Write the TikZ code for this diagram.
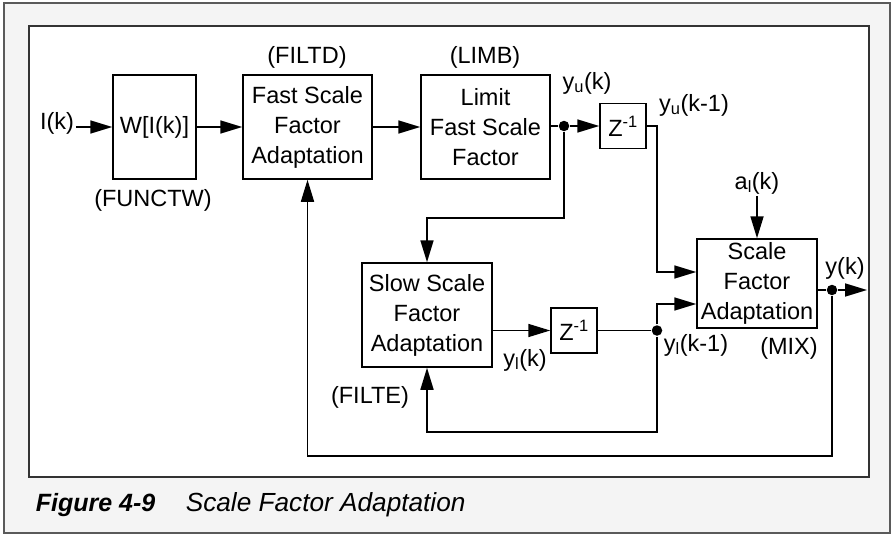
\documentclass[tikz,border=0pt]{standalone}
\usepackage{fontspec}
\setmainfont{Liberation Sans}
\usetikzlibrary{arrows.meta,positioning}
\definecolor{paneback}{HTML}{F4F4F4}
\definecolor{paneline}{HTML}{5A5A5A}

\begin{document}
\begin{tikzpicture}[x=1pt,y=-1pt,>={Triangle[length=22pt,width=13pt]},line width=1.7pt,
  blk/.style={draw,align=center,inner sep=0pt,line width=1.5pt,font=\fontsize{23.5}{30}\selectfont},
  lbl/.style={inner sep=1pt,font=\fontsize{23.5}{28}\selectfont},
  dot/.style={circle,fill,inner sep=0pt,minimum size=10.5pt}]
\useasboundingbox (0,0) rectangle (893,535);
% frame
\draw[fill=paneback,draw=paneline,line width=1.5pt] (4,3) rectangle (890,533);
\draw[fill=white,draw=black!80,line width=1.7pt] (29,26) rectangle (869,477);
% boxes
\node[blk,minimum width=83pt,minimum height=104pt] (w) at (154.5,127) {W[I(k)]};
\node[blk,minimum width=129pt,minimum height=104pt] (fast) at (307.5,127) {Fast Scale\\Factor\\Adaptation};
\node[blk,minimum width=129pt,minimum height=104pt] (limit) at (485.5,127) {Limit\\Fast Scale\\Factor};
\node[blk,minimum width=46pt,minimum height=45pt] (z1) at (623,126) {Z\textsuperscript{-1}};
\node[blk,minimum width=120pt,minimum height=89pt] (mix) at (757,283.5) {Scale\\Factor\\Adaptation};
\node[blk,minimum width=130pt,minimum height=104pt] (slow) at (427,315) {Slow Scale\\Factor\\Adaptation};
\node[blk,minimum width=46pt,minimum height=45pt] (z2) at (574,330.5) {Z\textsuperscript{-1}};
% labels
\node[lbl] (ik) at (57,123) {I(k)};
\node[lbl] (filtd) at (307,57) {(FILTD)};
\node[lbl] (functw) at (153,200) {(FUNCTW)};
\node[lbl] (limb) at (485,57) {(LIMB)};
\node[lbl] (yu) at (587,83) {y\textsubscript{u}(k)};
\node[lbl] (yu1) at (694,105) {y\textsubscript{u}(k-1)};
\node[lbl] (al) at (757,183) {a\textsubscript{l}(k)};
\node[lbl] (yk) at (845,268) {y(k)};
\node[lbl] (yl1) at (696,345) {y\textsubscript{l}(k-1)};
\node[lbl] (mixlbl) at (789,348) {(MIX)};
\node[lbl] (yl) at (525,360) {y\textsubscript{l}(k)};
\node[lbl] (filte) at (370,397) {(FILTE)};
% junctions
\node[dot] (du) at (564,126) {};
\node[dot] (dl) at (657,330.5) {};
\node[dot] (dy) at (832,290) {};
\coordinate (mu) at (657,272);
\coordinate (ml) at (657,304);
\coordinate (ub) at (427,218);
\coordinate (lb) at (427,432);
\coordinate (fb) at (307.5,456);
\coordinate (out) at (867,290);
% upper path
\draw[->] (ik.east |- w) -- (w);
\draw[->] (w) -- (fast);
\draw[->] (fast) -- (limit);
\draw (limit.east |- du) -- (du);
\draw[->] (du) -- (z1);
\draw[->] (du) |- (ub) -- (slow);
\draw[->] (z1.east) -| (mu) -- (mu -| mix.west);
\draw[->] (al) -- (mix);
% lower path
\draw[->] (slow.east |- z2) -- (z2);
\draw (z2) -- (dl);
\draw[->] (dl) -- (ml) -- (ml -| mix.west);
\draw[->] (dl) |- (lb) -- (slow);
% output and feedback
\draw (mix.east |- dy) -- (dy);
\draw[->] (dy) -- (out);
\draw[->] (dy) |- (fb) -- (fast);
% caption
\node[anchor=base west,inner sep=0pt,font=\fontsize{25}{30}\selectfont\bfseries\itshape] (fignum) at (35,511) {Figure 4-9};
\node[anchor=base west,inner sep=0pt,font=\fontsize{26.2}{30}\selectfont\itshape] (figtitle) at (185,511) {Scale Factor Adaptation};
\end{tikzpicture}
\end{document}
